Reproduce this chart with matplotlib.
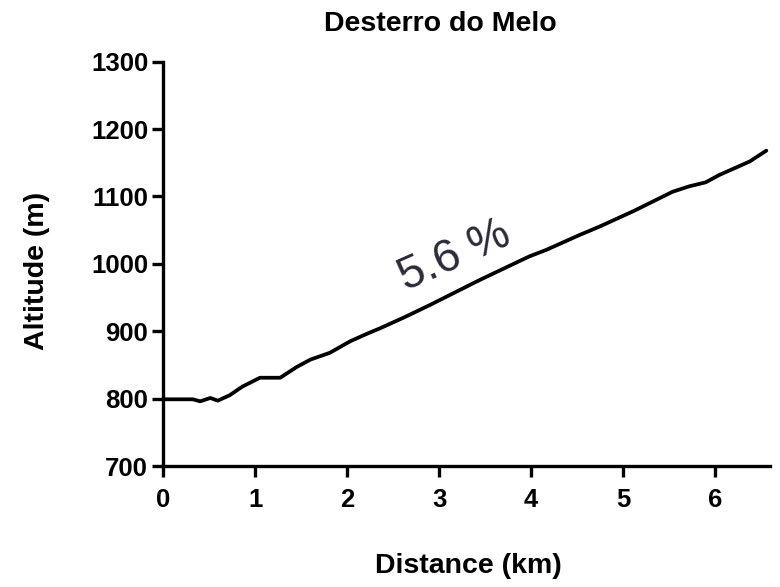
import numpy as np
import matplotlib
matplotlib.use('Agg')
import matplotlib.pyplot as plt

# elevation profile
distance_km = [0.00, 0.32, 0.40, 0.51, 0.59, 0.72, 0.86, 1.05, 1.27, 1.45, 1.60,
               1.81, 2.03, 2.21, 2.35, 2.61, 2.90, 3.44, 3.98, 4.17, 4.53, 4.74,
               5.11, 5.54, 5.72, 5.90, 6.05, 6.38, 6.56]
altitude_m = [799, 799, 796, 801, 797, 805, 818, 831, 831, 847, 858,
              868, 885, 896, 904, 920, 939, 976, 1011, 1021, 1043, 1055,
              1078, 1107, 1115, 1121, 1132, 1152, 1168]
x_ticks = [0, 1, 2, 3, 4, 5, 6]
y_ticks = [700, 800, 900, 1000, 1100, 1200, 1300]
title = 'Desterro do Melo'
gradient_label = '5.6 %'

plt.rcParams['font.family'] = ['Liberation Sans', 'DejaVu Sans']

fig = plt.figure(figsize=(7.8, 5.87), dpi=100)
ax = fig.add_axes([0.2096, 0.2061, 0.7776, 0.6888])

ax.plot(distance_km, altitude_m, color='black', lw=2.7, solid_capstyle='round',
        solid_joinstyle='round')

ax.set_xlim(0, 6.6)
ax.set_ylim(700, 1300)
ax.set_xticks(x_ticks)
ax.set_yticks(y_ticks)

for s in ['top', 'right']:
    ax.spines[s].set_visible(False)
for s in ['left', 'bottom']:
    ax.spines[s].set_linewidth(2.4)

ax.tick_params(direction='out', length=8, width=2.4, labelsize=18.5)
ax.tick_params(axis='x', pad=8)
ax.tick_params(axis='y', pad=3)
for lab in ax.get_xticklabels() + ax.get_yticklabels():
    lab.set_fontweight('bold')

ax.text(3.17, 1012, gradient_label, fontsize=33, color='#2b2b38',
        rotation=24, ha='center', va='center', rotation_mode='anchor')

fig.text(440 / 780, 1 - 24 / 587, title, fontsize=20.5, fontweight='bold',
         ha='center', va='center')
fig.text(468 / 780, 1 - 566 / 587, 'Distance (km)', fontsize=20.5,
         fontweight='bold', ha='center', va='center')
fig.text(37 / 780, 1 - 271 / 587, 'Altitude (m)', fontsize=20.5,
         fontweight='bold', ha='center', va='center', rotation=90)

fig.savefig('out.png', dpi=100)
